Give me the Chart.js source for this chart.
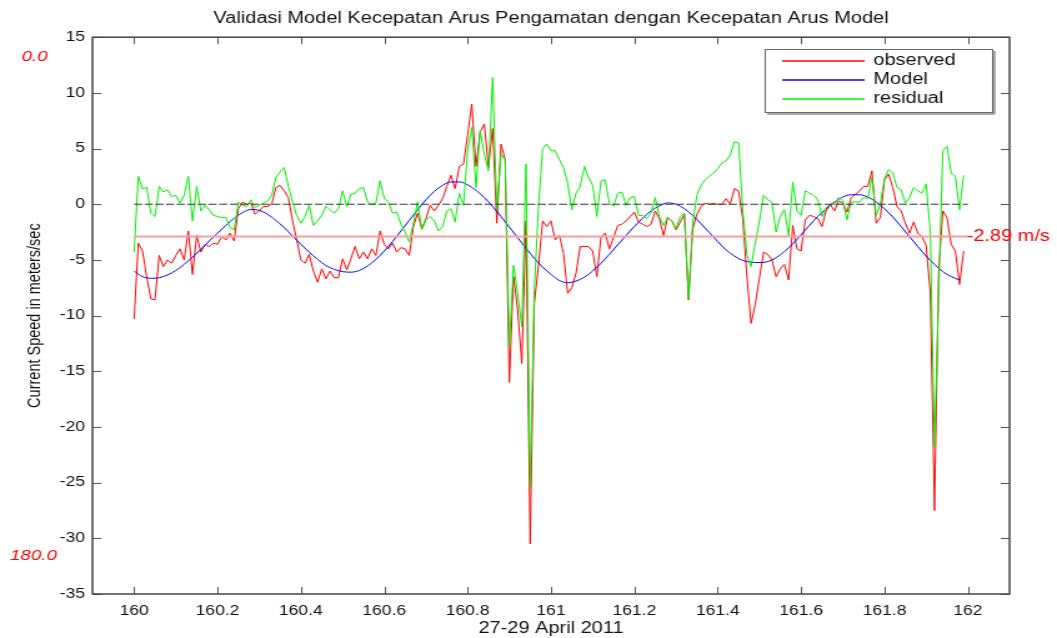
<!DOCTYPE html>
<html>
<head>
<meta charset="utf-8">
<title>Validasi Model Kecepatan Arus</title>
<script src="https://cdn.jsdelivr.net/npm/chart.js@4.4.1/dist/chart.umd.min.js"></script>
<style>
  html, body { margin: 0; padding: 0; background: #fff; overflow: hidden; }
  #speedChart { display: block; }
</style>
</head>
<body>
<!-- the source figure is horizontally stretched, so the canvas is drawn narrower and scaled up by css -->
<canvas id="speedChart" width="846" height="638" style="width:1057px;height:638px"></canvas>
<script>
// day-of-year axis: observed/residual every 0.01 day, model every 0.02 day
const obsStart = 160;
const obsStep = 0.01;
const modelStart = 160;
const modelStep = 0.02;

const observed = [
  -10.3, -3.5, -4.2, -6.5, -8.5, -8.6, -4.6, -5.6, -5.0, -5.3,
  -4.6, -4.0, -5.0, -2.4, -6.3, -2.8, -4.3, -3.6, -3.8, -3.5,
  -3.6, -2.9, -3.2, -2.6, -3.3, -0.4, 0.2, 0.0, 0.1, -0.9,
  -0.6, -0.2, -0.2, 0.0, 1.5, 1.7, 1.2, 0.6, -1.5, -3.2,
  -5.0, -5.3, -4.5, -6.0, -7.0, -5.8, -6.7, -6.0, -6.6, -6.6,
  -4.9, -5.9, -4.9, -3.8, -4.9, -4.3, -4.9, -4.0, -4.6, -2.4,
  -3.6, -4.0, -3.5, -4.3, -3.9, -4.0, -4.6, -2.0, -0.8, -2.2,
  -1.3, -0.1, -0.6, -0.1, 0.5, 1.6, 2.6, 1.4, 3.4, 3.6,
  6.2, 9.0, 3.4, 6.5, 7.2, 3.3, 6.8, -1.7, 5.4, 4.0,
  -16.0, -6.5, -9.5, -14.3, -1.5, -30.5, -8.9, -5.5, -1.5, -2.0,
  -1.5, -3.2, -2.8, -4.4, -8.0, -7.5, -6.2, -3.8, -3.8, -3.8,
  -4.2, -6.5, -2.9, -2.6, -4.0, -3.0, -1.9, -1.8, -1.5, -1.1,
  -0.7, -1.6, -1.8, -2.0, -1.8, -0.6, -1.3, -2.8, -1.2, -1.5,
  -2.3, -1.6, -0.9, -8.6, -2.2, -0.9, -0.2, 0.1, 0.0, 0.05,
  0.0, 0.0, 0.5, 0.0, 1.4, 1.2, -1.3, -6.5, -10.7, -9.0,
  -6.6, -4.3, -4.5, -5.0, -6.5, -5.8, -5.4, -6.8, -1.9, -4.0,
  -4.2, -1.4, -1.0, -1.1, -1.3, -2.0, -0.6, 0.0, -0.6, 0.3,
  0.1, -0.7, 0.6, 0.9, 1.2, 1.6, 1.6, 3.0, -1.7, -1.2,
  2.2, 2.7, 1.5, -0.2, -0.6, -1.7, -2.6, -1.6, -2.6, -2.9,
  -3.7, -8.0, -27.5, -6.0, -0.6, -1.2, -3.6, -4.2, -7.2, -4.2
];

const residual = [
  -4.3, 2.5, 1.4, 1.5, -0.8, -1.1, 1.6, 1.1, 1.3, 0.7,
  0.8, 0.1, 0.8, 2.5, -1.5, 1.6, -0.6, -0.1, -0.5, -1.0,
  -1.1, -1.2, -1.2, -2.1, -2.3, 0.2, -0.1, -0.2, 0.4, -0.3,
  -0.1, 0.1, 0.3, 0.8, 2.4, 2.9, 3.3, 1.6, 0.2, -1.0,
  -1.7, -1.1, -0.1, -1.9, -1.5, -1.0, -0.2, -0.5, -0.8, -0.4,
  1.2, -0.2, 0.9, 1.0, 1.4, 1.5, 0.2, 0.0, 0.1, 2.1,
  0.5, 0.2, -0.8, -0.7, -1.8, -2.5, -3.4, -1.7, 0.2, -2.3,
  -1.4, -1.1, -1.5, -2.4, -2.0, -0.6, -0.4, -1.6, 1.0, -0.1,
  4.8, 6.9, 1.5, 6.6, 4.5, 3.0, 11.4, -0.5, 4.5, 4.0,
  -12.8, -5.5, -8.0, -11.0, 3.6, -25.4, -7.7, -0.2, 5.0, 5.4,
  4.8, 4.8, 4.0, 3.3, 1.9, -0.5, 1.0, 1.6, 3.4, 2.4,
  1.7, -1.1, 2.1, 2.2, 0.1, -0.2, 1.0, 1.1, -0.1, 0.6,
  0.7, -1.0, -1.0, -1.3, -0.8, 0.6, -1.1, -1.9, -1.2, -1.5,
  -2.2, -1.1, -0.8, -8.5, -1.7, 0.8, 1.7, 2.2, 2.5, 2.8,
  3.2, 3.7, 3.9, 4.4, 5.6, 5.5, -0.5, -4.5, -5.6, -3.5,
  -1.5, 0.8, 0.4, 0.2, -2.5, -1.1, -0.5, -2.8, 2.0, -0.6,
  -1.0, 1.2, 1.0, 0.8, 0.4, -1.1, -0.3, 0.0, 0.0, 0.6,
  0.3, -1.4, 0.2, 0.2, 0.2, 0.6, 0.5, 2.4, -1.0, 0.0,
  2.3, 3.1, 2.8, 1.5, 1.3, 0.1, 0.6, 1.5, 1.2, 1.0,
  1.8, -2.5, -21.8, -8.0, 4.8, 5.2, 2.8, 2.5, -0.5, 2.6
];

const model = [
  -6.0, -6.5, -6.65, -6.6, -6.35, -5.95, -5.4, -4.75, -4.05, -3.3,
  -2.6, -1.9, -1.25, -0.75, -0.47, -0.55, -0.9, -1.45, -2.1, -2.85,
  -3.6, -4.3, -4.95, -5.5, -5.85, -6.05, -6.1, -5.95, -5.55, -4.95,
  -4.2, -3.35, -2.4, -1.45, -0.5, 0.4, 1.15, 1.7, 2.0, 2.0,
  1.75, 1.25, 0.6, -0.2, -1.1, -2.05, -3.0, -3.95, -4.85, -5.65,
  -6.3, -6.85, -7.05, -6.9, -6.55, -6.0, -5.3, -4.5, -3.65, -2.8,
  -2.0, -1.25, -0.6, -0.15, 0.12, 0.0, -0.4, -1.0, -1.75, -2.55,
  -3.35, -4.1, -4.65, -5.05, -5.2, -5.24, -5.15, -4.8, -4.25, -3.55,
  -2.75, -1.9, -1.1, -0.4, 0.2, 0.65, 0.85, 0.85, 0.65, 0.2,
  -0.4, -1.15, -2.0, -2.9, -3.8, -4.65, -5.4, -6.05, -6.5, -6.8
];

const meanSpeed = -2.89;
const refSpan = [160, 162];
const xTickValues = [160, 160.2, 160.4, 160.6, 160.8, 161, 161.2, 161.4, 161.6, 161.8, 162];
const xTickLabels = ['160', '160.2', '160.4', '160.6', '160.8', '161', '161.2', '161.4', '161.6', '161.8', '162'];
const seriesNames = ['observed', 'Model', 'residual'];

const RED = 'rgb(255, 0, 0)';
const BLUE = 'rgb(0, 0, 255)';
const GREEN = 'rgb(0, 240, 0)';
const seriesColors = [RED, BLUE, GREEN];

const obsTime = observed.map((_, i) => +(obsStart + i * obsStep).toFixed(2));
const modelTime = model.map((_, i) => +(modelStart + i * modelStep).toFixed(2));

function toPoints(xs, ys) {
  return xs.map((x, i) => ({ x: x, y: ys[i] }));
}

Chart.defaults.font.family = '"Liberation Sans", Arial, sans-serif';
Chart.defaults.color = '#111';

// inward tick marks on all four sides plus the axes box
const axisBox = {
  id: 'axisBox',
  afterDraw(chart) {
    const { ctx, chartArea: a, scales: { x, y } } = chart;
    ctx.save();
    ctx.strokeStyle = '#555';
    ctx.lineWidth = 1;
    ctx.beginPath();
    xTickValues.forEach(v => {
      const px = Math.round(x.getPixelForValue(v)) + 0.5;
      ctx.moveTo(px, a.bottom); ctx.lineTo(px, a.bottom - 7);
      ctx.moveTo(px, a.top); ctx.lineTo(px, a.top + 7);
    });
    y.ticks.forEach(t => {
      const py = Math.round(y.getPixelForValue(t.value)) + 0.5;
      ctx.moveTo(a.left, py); ctx.lineTo(a.left + 7, py);
      ctx.moveTo(a.right, py); ctx.lineTo(a.right - 7, py);
    });
    ctx.stroke();
    ctx.strokeStyle = '#444';
    ctx.lineWidth = 1.5;
    ctx.strokeRect(a.left, a.top, a.right - a.left, a.bottom - a.top);
    ctx.restore();
  }
};

// red annotations and the boxed legend in the upper right
const extras = {
  id: 'extras',
  afterDraw(chart) {
    const { ctx, scales: { x, y } } = chart;
    ctx.save();
    ctx.fillStyle = RED;
    ctx.textBaseline = 'middle';
    ctx.textAlign = 'center';
    ctx.font = 'italic 15px "Liberation Sans", Arial, sans-serif';
    ctx.fillText('0.0', 27.6, 57);
    ctx.fillText('180.0', 26.8, 556);
    ctx.textAlign = 'left';
    ctx.font = '16px "Liberation Sans", Arial, sans-serif';
    ctx.fillText(meanSpeed.toFixed(2) + ' m/s', x.getPixelForValue(refSpan[1]) - 1, y.getPixelForValue(meanSpeed));

    // legend
    const bx = 612, by = 49, bw = 182, bh = 63;
    ctx.fillStyle = '#fff';
    ctx.fillRect(bx, by, bw, bh);
    ctx.fillStyle = '#aaa';
    ctx.fillRect(bx + 2, by + bh + 1, bw, 2);
    ctx.fillRect(bx + bw + 1, by + 2, 2, bh);
    ctx.strokeStyle = '#666';
    ctx.lineWidth = 1;
    ctx.strokeRect(bx + 0.5, by + 0.5, bw, bh);
    const rows = [61, 80, 99];
    ctx.font = '16px "Liberation Sans", Arial, sans-serif';
    seriesNames.forEach((name, i) => {
      ctx.beginPath();
      ctx.strokeStyle = seriesColors[i];
      ctx.lineWidth = 1.3;
      ctx.moveTo(626, rows[i]);
      ctx.lineTo(692, rows[i]);
      ctx.stroke();
      ctx.fillStyle = '#111';
      ctx.fillText(name, 699, rows[i]);
    });
    ctx.restore();
  }
};

const ctx = document.getElementById('speedChart').getContext('2d');

new Chart(ctx, {
  type: 'line',
  data: {
    datasets: [
      {
        label: seriesNames[0],
        data: toPoints(obsTime, observed),
        borderColor: RED,
        borderWidth: 1,
        order: 4
      },
      {
        label: seriesNames[1],
        data: toPoints(modelTime, model),
        borderColor: BLUE,
        borderWidth: 1,
        cubicInterpolationMode: 'monotone',
        order: 3
      },
      {
        label: seriesNames[2],
        data: toPoints(obsTime, residual),
        borderColor: GREEN,
        borderWidth: 1,
        order: 2
      },
      {
        label: 'mean',
        data: toPoints(refSpan, [meanSpeed, meanSpeed]),
        borderColor: '#ff9c9c',
        borderWidth: 2,
        order: 1
      },
      {
        label: 'zero',
        data: toPoints(refSpan, [0, 0]),
        borderColor: '#333',
        borderWidth: 1,
        borderDash: [6.5, 2],
        order: 0
      }
    ]
  },
  options: {
    responsive: false,
    maintainAspectRatio: false,
    devicePixelRatio: 1,
    animation: false,
    elements: { point: { radius: 0 }, line: { tension: 0 } },
    layout: { padding: { left: 0, right: 38, top: 0, bottom: 0 } },
    plugins: {
      legend: { display: false },
      tooltip: { enabled: false },
      title: {
        display: true,
        text: 'Validasi Model Kecepatan Arus Pengamatan dengan Kecepatan Arus Model',
        fullSize: false,
        color: '#111',
        font: { size: 16, weight: 'normal' },
        padding: { top: 9, bottom: 9 }
      }
    },
    scales: {
      x: {
        type: 'linear',
        min: 159.9,
        max: 162.1,
        grid: { display: false, drawTicks: false },
        border: { display: false },
        afterBuildTicks: s => { s.ticks = xTickValues.map(v => ({ value: v })); },
        afterFit: s => { s.height = 44; },
        ticks: {
          autoSkip: false,
          maxRotation: 0,
          padding: 9,
          font: { size: 14 },
          callback: v => {
            const i = xTickValues.findIndex(t => Math.abs(t - v) < 1e-6);
            return i >= 0 ? xTickLabels[i] : '';
          }
        },
        title: {
          display: true,
          text: '27-29 April 2011',
          font: { size: 16 },
          padding: { top: 0, bottom: 0 }
        }
      },
      y: {
        min: -35,
        max: 15,
        grid: { display: false, drawTicks: false },
        border: { display: false },
        afterFit: s => { s.width = 74; },
        ticks: { stepSize: 5, padding: 6, font: { size: 14 } },
        title: {
          display: true,
          text: 'Current Speed in meters/sec',
          font: { size: 14.5 },
          padding: { top: 19, bottom: 0 }
        }
      }
    }
  },
  plugins: [axisBox, extras]
});
</script>
</body>
</html>
